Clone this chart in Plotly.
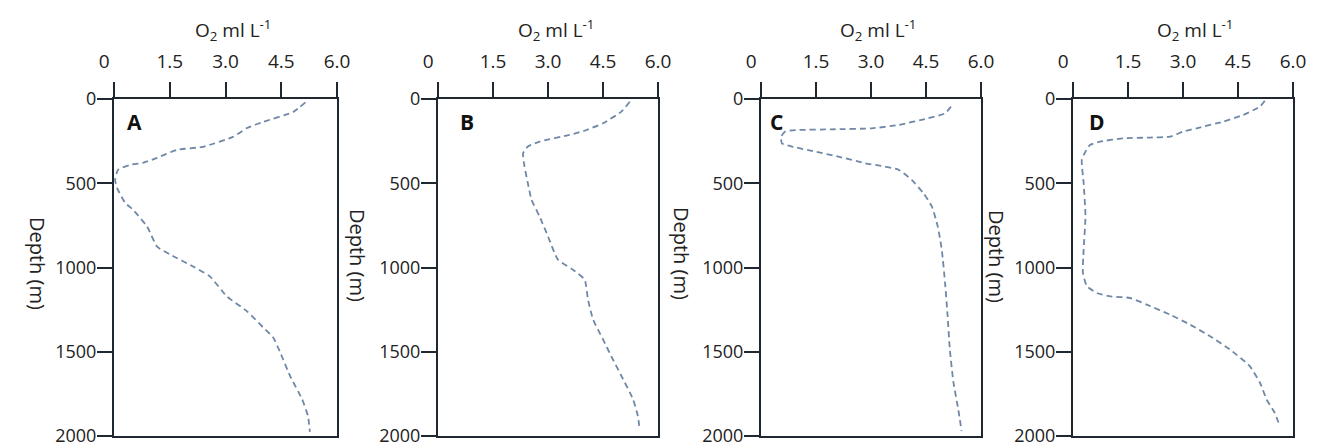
import plotly.graph_objects as go

# ---------------- data ----------------
panel_labels = ["A", "B", "C", "D"]
x_ticks = [0, 1.5, 3.0, 4.5, 6.0]
x_ticktext = ["0\u00a0\u00a0\u00a0\u00a0", "1.5", "3.0", "4.5", "6.0"]
y_ticks = [0, 500, 1000, 1500, 2000]
x_title = "O<sub>2</sub> ml L<sup>-1</sup>"
y_title = "Depth (m)"

a_o2 = [5.15, 4.82, 4.01, 3.58, 3.2, 2.39, 1.69, 1.16, 0.78, 0.43, 0.11, 0.03, 0.08, 0.3, 0.51,
        0.89, 1.16, 1.51, 2.13, 2.58, 3.04, 3.58, 4.01, 4.28, 4.47, 4.74, 5.06, 5.22, 5.27]
a_depth = [20, 77, 136, 172, 225, 284, 302, 349, 379, 391, 420, 479, 527, 616, 657,
           757, 876, 923, 994, 1053, 1172, 1260, 1355, 1414, 1503, 1645, 1781, 1882, 1976]

b_o2 = [5.23, 5.0, 4.5, 4.05, 3.59, 2.77, 2.45, 2.32, 2.36, 2.45, 2.55, 2.77, 3.0, 3.27,
        3.68, 4.0, 4.09, 4.23, 4.5, 4.77, 5.05, 5.32, 5.45, 5.5]
b_depth = [16, 75, 144, 184, 213, 253, 282, 322, 401, 499, 598, 697, 815, 953,
           1013, 1072, 1190, 1309, 1427, 1546, 1664, 1782, 1881, 1960]

c_o2 = [5.18, 5.02, 4.56, 3.75, 3.02, 1.93, 1.03, 0.66, 0.55, 0.57, 0.84, 1.48, 2.11, 2.84,
        3.38, 3.75, 4.11, 4.43, 4.66, 4.82, 4.93, 5.02, 5.09, 5.15, 5.25, 5.38, 5.47]
c_depth = [45, 85, 114, 154, 174, 180, 184, 193, 223, 263, 282, 312, 342, 381,
           401, 420, 480, 559, 638, 756, 894, 1092, 1289, 1487, 1684, 1842, 1970]

d_o2 = [5.23, 5.1, 4.64, 4.1, 3.37, 3.01, 2.65, 2.1, 1.38, 0.74, 0.47, 0.34, 0.24, 0.29,
        0.34, 0.29, 0.27, 0.38, 0.65, 1.02, 1.56, 2.01, 2.65, 3.19, 3.74, 4.28, 4.82,
        5.1, 5.28, 5.5, 5.64]
d_depth = [10, 45, 95, 134, 174, 193, 223, 229, 233, 253, 272, 312, 361, 499,
           697, 894, 1032, 1111, 1151, 1171, 1181, 1220, 1280, 1339, 1408, 1487, 1585,
           1684, 1783, 1862, 1941]

series = [(a_o2, a_depth), (b_o2, b_depth), (c_o2, c_depth), (d_o2, d_depth)]

# ---------------- styling / layout ----------------
W, H = 1320, 447
FONT = "Open Sans"
AXIS_COLOR = "#1f2731"
LINE_COLOR = "#6f88a6"
TXT = "#222"
FS = 19
x_domains = [(114, 337), (438, 658), (761, 981), (1073, 1293)]
plot_top, plot_bottom = 99, 436
letter_shift = [11, 20, 7, 14]
title_px = [233, 556, 878, 1195]
depth_px = [(38, 263), (357, 255), (682, 253), (997, 257)]

fig = go.Figure()
layout = dict(
    width=W, height=H,
    margin=dict(l=0, r=0, t=0, b=0, autoexpand=False),
    paper_bgcolor="white", plot_bgcolor="white",
    showlegend=False,
    font=dict(family=FONT, color=TXT, size=FS),
)

annotations = []
for i, (xs, ys) in enumerate(series):
    n = "" if i == 0 else str(i + 1)
    fig.add_trace(go.Scatter(
        x=xs, y=ys, mode="lines",
        line=dict(color=LINE_COLOR, width=1.8, dash="6px,4px", shape="spline", smoothing=0.5),
        xaxis="x" + n, yaxis="y" + n, hoverinfo="skip",
    ))
    x0, x1 = x_domains[i]
    layout["xaxis" + n] = dict(
        domain=[x0 / W, x1 / W], anchor="y" + n, side="top",
        range=[0, 6], tickmode="array", tickvals=x_ticks, ticktext=x_ticktext,
        ticks="outside", ticklen=15, tickwidth=2, tickcolor=AXIS_COLOR,
        showline=True, linecolor=AXIS_COLOR, linewidth=2, mirror=True,
        showgrid=False, zeroline=False, ticklabelstandoff=6, automargin=False,
        ticklabeloverflow="allow",
        tickfont=dict(family=FONT, size=FS, color=TXT),
    )
    layout["yaxis" + n] = dict(
        domain=[(H - plot_bottom) / H, (H - plot_top) / H], anchor="x" + n,
        range=[2000, 0], tickmode="array", tickvals=y_ticks,
        ticks="outside", ticklen=15, tickwidth=2, tickcolor=AXIS_COLOR,
        showline=True, linecolor=AXIS_COLOR, linewidth=2, mirror=True,
        showgrid=False, zeroline=False, ticklabelstandoff=-3, automargin=False,
        ticklabeloverflow="allow",
        tickfont=dict(family=FONT, size=18, color=TXT),
    )
    annotations.append(dict(
        text="<b>%s</b>" % panel_labels[i], xref="x%s domain" % n, yref="y%s domain" % n,
        x=0, y=1, xanchor="left", yanchor="middle", xshift=letter_shift[i], yshift=-23,
        showarrow=False, font=dict(family=FONT, size=21, color="#111"),
    ))
    annotations.append(dict(
        text=x_title, xref="paper", yref="paper",
        x=title_px[i] / W, y=(H - 30) / H, xanchor="center", yanchor="middle",
        showarrow=False, font=dict(family=FONT, size=FS, color=TXT),
    ))
    dx, dy = depth_px[i]
    annotations.append(dict(
        text=y_title, xref="paper", yref="paper",
        x=dx / W, y=(H - dy) / H, xanchor="center", yanchor="middle", textangle=90,
        showarrow=False, font=dict(family=FONT, size=20, color=TXT),
    ))

layout["annotations"] = annotations
fig.update_layout(**layout)
fig.write_html("out.html", config={"displayModeBar": False},
               post_script="document.body.style.margin='0';")
